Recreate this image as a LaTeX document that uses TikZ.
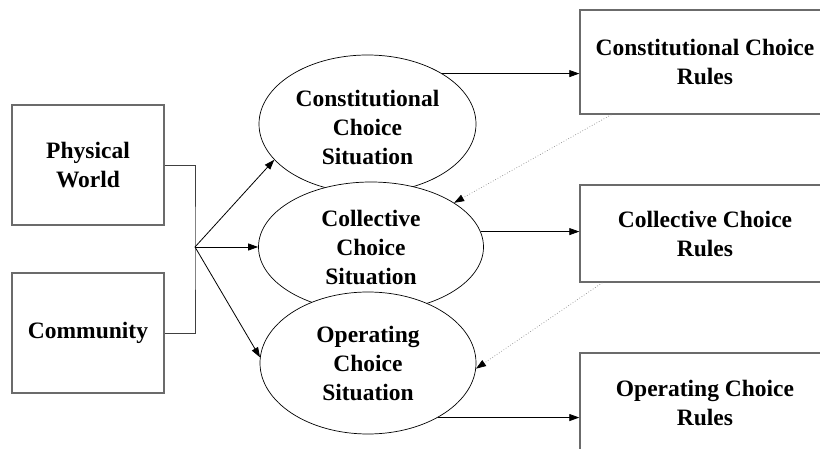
\documentclass[tikz,border=0pt]{standalone}
\usepackage{fontspec}
\setmainfont{Liberation Serif}
\usetikzlibrary{shapes.geometric,arrows.meta}

\tikzset{
  label text/.style={font=\fontsize{23.5}{29}\selectfont\bfseries, align=center, inner sep=0pt},
  box/.style={label text, draw=black!58, line width=1.4pt, fill=white},
  situation/.style={label text, ellipse, draw=black, line width=0.7pt, fill=white},
  link/.style={draw=black, line width=0.8pt, -{Triangle[length=10pt,width=7pt]}},
  bracket/.style={draw=black!75, line width=0.8pt},
  feedback/.style={draw=black!45, line width=0.7pt, dotted,
    -{Triangle[length=10pt,width=7pt,color=black]}}
}

\begin{document}
\begin{tikzpicture}[x=1pt,y=-1pt]
  \useasboundingbox (0,0) rectangle (820,449);
  \clip (0,0) rectangle (820,449);

  % inputs on the left
  \node[box, minimum width=152pt, minimum height=120pt] (phys) at (88,165) {Physical\\World};
  \node[box, minimum width=152pt, minimum height=120pt] (comm) at (88,333) {Community};

  % the three action situations, each overlapping the one above
  \node[situation, minimum width=217pt, minimum height=138pt] (const) at (367.5,124)
    {};
  \node[label text] (consttext) at (367.5,127) {Constitutional\\Choice\\Situation};
  \node[situation, minimum width=225pt, minimum height=130pt] (coll) at (371,247)
    {Collective\\Choice\\Situation};
  \node[situation, minimum width=216pt, minimum height=142pt] (oper) at (368,363)
    {Operating\\Choice\\Situation};

  % resulting rule sets on the right
  \node[box, minimum width=250pt, minimum height=104pt] (crules) at (705,62)
    {Constitutional Choice\\Rules};
  \node[box, minimum width=250pt, minimum height=97pt] (collrules) at (705,233.5)
    {Collective Choice\\Rules};
  \node[box, minimum width=250pt, minimum height=100pt] (operrules) at (705,403)
    {Operating Choice\\Rules};

  % joining bracket and fan-out
  \coordinate (j) at (195,247);
  \draw[bracket] (phys.east) -| (j) |- (comm.east);
  \draw[link] (j) -- (const.201);
  \draw[link] (j) -- (coll.west);
  \draw[link] (j) -- (oper.177);

  % situations produce rules
  \draw[link] (const.34) -- (const.34 -| crules.west);
  \draw[link] (coll.8) -- (coll.8 -| collrules.west);
  \draw[link] (oper.-38) -- (oper.-38 -| operrules.west);

  % rules feed back into the next level down
  \coordinate (cfb) at ([xshift=32pt]crules.south west);
  \coordinate (lfb) at ([xshift=23pt]collrules.south west);
  \draw[feedback] (cfb) -- (coll.28);
  \draw[feedback] (lfb) -- (oper.-3);
\end{tikzpicture}
\end{document}
